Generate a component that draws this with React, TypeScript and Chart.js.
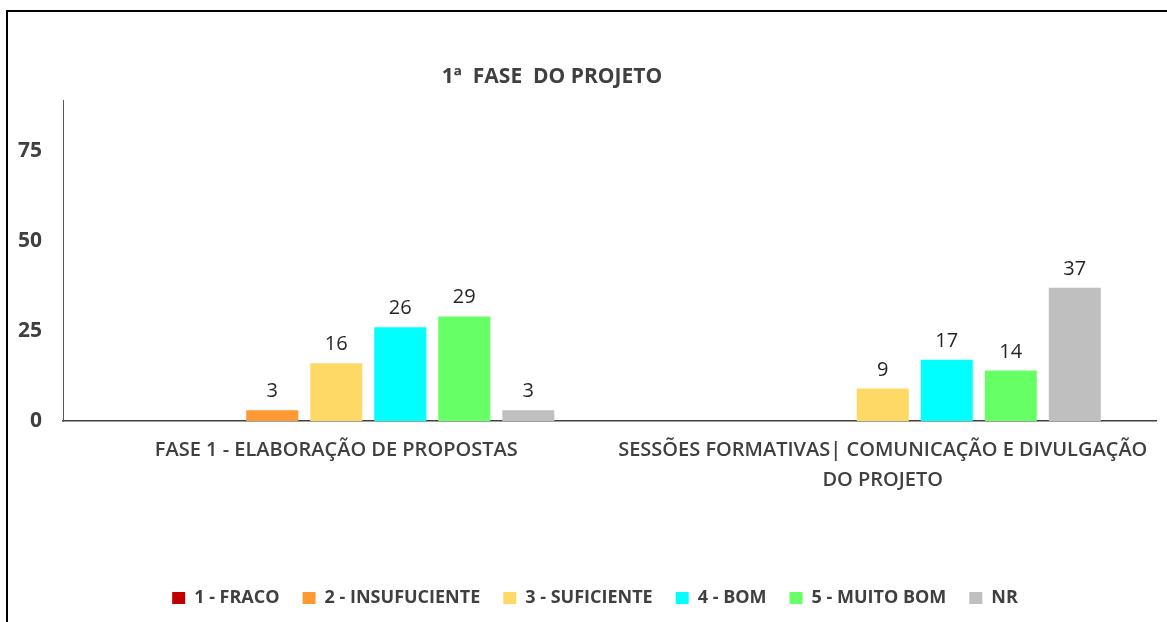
import { useEffect, useRef } from 'react';
import { Chart, registerables } from 'chart.js';
Chart.register(...registerables);

const chartTitle = '1ª  FASE  DO PROJETO';
const categories: (string | string[])[] = [
  'FASE 1 - ELABORAÇÃO DE PROPOSTAS',
  ['SESSÕES FORMATIVAS| COMUNICAÇÃO E DIVULGAÇÃO', 'DO PROJETO'],
];
const seriesNames = ['1 - FRACO', '2 - INSUFUCIENTE', '3 - SUFICIENTE', '4 - BOM', '5 - MUITO BOM', 'NR'];
const fraco: (number | null)[] = [null, null];
const insuficiente: (number | null)[] = [3, null];
const suficiente: (number | null)[] = [16, 9];
const bom: (number | null)[] = [26, 17];
const muitoBom: (number | null)[] = [29, 14];
const nr: (number | null)[] = [3, 37];
const emptySlot: (number | null)[] = [null, null];
const seriesColors = ['#C00000', '#FF9933', '#FFD966', '#00FFFF', '#66FF66', '#BFBFBF'];
const yMax = 89;
const yStep = 25;

const TEXT = '#404040';
const SANS = '"Open Sans", "Noto Sans", sans-serif';

const valueLabels = {
  id: 'valueLabels',
  afterDatasetsDraw(chart: any) {
    const ctx = chart.ctx;
    ctx.save();
    ctx.font = `400 20px ${SANS}`;
    ctx.fillStyle = '#262626';
    ctx.textAlign = 'center';
    ctx.textBaseline = 'alphabetic';
    chart.data.datasets.forEach((ds: any, di: number) => {
      const meta = chart.getDatasetMeta(di);
      meta.data.forEach((el: any, i: number) => {
        const v = ds.data[i];
        if (v === null || v === undefined) return;
        ctx.fillText(String(v), el.x, el.y - 13);
      });
    });
    ctx.restore();
  },
};

const shiftBoxes = {
  id: 'shiftBoxes',
  afterLayout(chart: any) {
    const t = chart.titleBlock;
    if (t) { t.left -= 26; t.right -= 26; }
    const l = chart.legend;
    if (l) { l.left += 17; l.right += 17; }
  },
};

export default function App() {
  const ref = useRef<HTMLCanvasElement>(null);
  useEffect(() => {
    if (!ref.current) return;
    const seriesData = [fraco, insuficiente, suficiente, bom, muitoBom, nr];
    const datasets: any[] = [
      { label: '', data: emptySlot, backgroundColor: 'rgba(0,0,0,0)', borderWidth: 0 },
      ...seriesNames.map((name, i) => ({
        label: name,
        data: seriesData[i],
        backgroundColor: seriesColors[i],
        borderWidth: 0,
      })),
    ];
    const chart = new Chart(ref.current, {
      type: 'bar',
      data: { labels: categories as any, datasets },
      options: {
        animation: false,
        responsive: false,
        devicePixelRatio: 1,
        layout: { padding: { left: 0, right: 11, top: 0, bottom: 5 } },
        datasets: { bar: { categoryPercentage: 0.82, barPercentage: 0.8125 } } as any,
        plugins: {
          tooltip: { enabled: false },
          title: {
            display: true,
            text: chartTitle,
            color: TEXT,
            font: { family: SANS, size: 21, weight: 'bold', lineHeight: 1.2 },
            padding: { top: 64, bottom: 11 },
          },
          legend: {
            position: 'bottom',
            labels: {
              filter: (item: any) => item.text !== '',
              boxWidth: 13,
              boxHeight: 12,
              padding: 23,
              color: TEXT,
              font: { family: SANS, size: 18, weight: 'bold' },
            },
          },
        },
        scales: {
          x: {
            grid: { display: false, drawTicks: false },
            border: { display: true, color: '#404040', width: 1.5 },
            ticks: {
              color: TEXT,
              padding: 14,
              maxRotation: 0,
              autoSkip: false,
              font: { family: SANS, size: 20, weight: 600, lineHeight: 1.5 },
            },
            afterFit: (s: any) => { s.height = 145; },
          },
          y: {
            min: 0,
            max: yMax,
            grid: { display: false, drawTicks: false },
            border: { display: true, color: '#595959', width: 1 },
            ticks: {
              stepSize: yStep,
              includeBounds: false,
              color: TEXT,
              padding: 21,
              font: { family: SANS, size: 21, weight: 'bold' },
            },
            afterFit: (s: any) => { s.width = 63; },
          },
        },
      },
      plugins: [valueLabels, shiftBoxes],
    });
    return () => chart.destroy();
  }, []);

  return (
    <div style={{ position: 'fixed', left: 0, top: 0, width: 1167, height: 622, background: '#fff', overflow: 'hidden' }}>
      <canvas ref={ref} width={1167} height={622} style={{ position: 'absolute', left: 0, top: 0, width: 1167, height: 622 }} />
      <div style={{ position: 'absolute', left: 6, top: 10, width: 1300, height: 800, borderTop: '2px solid #000', borderLeft: '2px solid #000', pointerEvents: 'none' }} />
    </div>
  );
}
